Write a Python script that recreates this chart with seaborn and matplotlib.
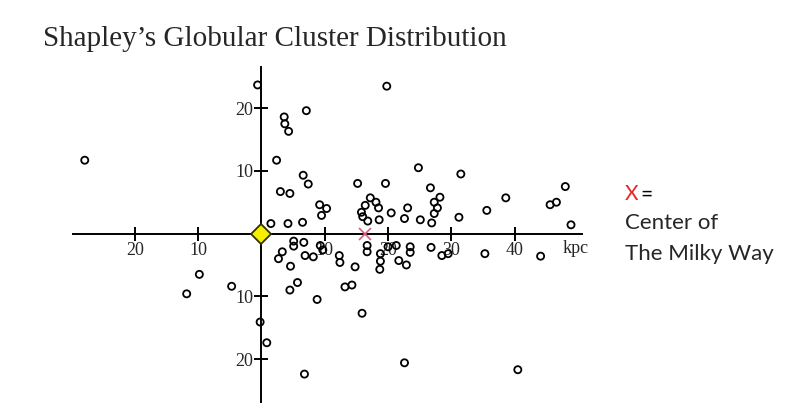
import matplotlib
matplotlib.use('Agg')
import matplotlib.pyplot as plt
import seaborn as sns
import pandas as pd

# globular cluster positions (kpc)
cluster_x = [
    -0.6, 19.8, 7.1, 3.6, 3.7, 4.3, -27.9, 2.4, 6.6, 7.4, 3.0, 4.5, 1.5, 4.2, 6.5,
    9.2, 10.3, 9.5, 15.2, 19.6, 24.8, 31.5, 26.7,
    17.2, 18.1, 16.4, 18.5, 15.8, 16.0, 16.8, 18.6, 20.5, 23.1, 22.6, 25.1,
    28.2, 27.3, 27.8, 27.3, 26.9, 31.2, 35.6, 38.6, 48.0, 45.6, 46.6, 48.9,
    5.1, 5.1, 6.7, 3.3, 2.7, 6.9, 8.2, 4.6, 5.7, 4.5, 8.8, 9.3, 9.7,
    12.3, 12.4, 14.8, 13.2, 14.3, 15.9, 16.7, 16.7, 18.8, 18.8, 18.7,
    20.0, 21.3, 21.7, 22.9, 23.5, 23.5, 26.8, 28.5, 29.5, 35.3, 44.1,
    22.6, 40.5, 6.8, -9.8, -11.8, -4.7, -0.2, 0.85,
]
cluster_y = [
    23.7, 23.5, 19.6, 18.6, 17.5, 16.3, 11.7, 11.7, 9.3, 7.9, 6.7, 6.4, 1.6, 1.6, 1.8,
    4.6, 4.0, 2.9, 8.0, 8.0, 10.5, 9.5, 7.3,
    5.7, 5.0, 4.5, 4.1, 3.4, 2.7, 2.0, 2.2, 3.3, 4.1, 2.4, 2.2,
    5.8, 5.0, 4.1, 3.2, 1.7, 2.6, 3.7, 5.7, 7.5, 4.6, 5.0, 1.4,
    -1.2, -2.0, -1.4, -2.9, -4.0, -3.5, -3.7, -5.2, -7.8, -9.0, -10.5, -1.9, -2.6,
    -3.5, -4.6, -5.3, -8.5, -8.2, -12.7, -1.9, -2.9, -3.2, -4.4, -5.7,
    -2.1, -1.9, -4.3, -5.0, -2.1, -3.0, -2.2, -3.5, -3.2, -3.2, -3.6,
    -20.6, -21.7, -22.4, -6.5, -9.6, -8.4, -14.1, -17.4,
]

sun = (0, 0)
center = (16.3, 0)

x_ticks = [-20, -10, 10, 20, 30, 40]
x_tick_labels = ["20", "10", "10", "20", "30", "40"]
y_ticks = [-20, -10, 10, 20]
y_tick_labels = ["20", "10", "10", "20"]

df = pd.DataFrame({"x": cluster_x, "y": cluster_y})

sns.set_style("white")
plt.rcParams['font.family'] = ['Liberation Serif', 'DejaVu Serif']

fig = plt.figure(figsize=(8.08, 4.12), dpi=100)
ax = fig.add_axes([0.09, 0.025, 0.63, 0.813])

sns.scatterplot(data=df, x="x", y="y", ax=ax, marker="o", s=26,
                facecolor="none", edgecolor="black", linewidth=1.3)
ax.plot(*sun, marker="D", markersize=10, color="#f5f000",
        markeredgecolor="#333300", markeredgewidth=1.3, zorder=5)
ax.plot(*center, marker="x", markersize=9, color="#d9607c",
        markeredgewidth=1.2, zorder=5)

ax.set_xlim(-29.8, 50.6)
ax.set_ylim(-26.8, 26.6)
ax.set_xlabel("")
ax.set_ylabel("")

for side in ["top", "right"]:
    ax.spines[side].set_visible(False)
ax.spines["left"].set_position(("data", 0))
ax.spines["bottom"].set_position(("data", 0))
for side in ["left", "bottom"]:
    ax.spines[side].set_linewidth(1.4)
    ax.spines[side].set_color("black")

ax.set_xticks(x_ticks)
ax.set_xticklabels(x_tick_labels)
ax.set_yticks(y_ticks)
ax.set_yticklabels(y_tick_labels)
ax.tick_params(axis="both", direction="inout", length=10, width=1.4,
               labelsize=13, bottom=True, left=True, color="black")
ax.tick_params(axis="y", pad=1)
ax.tick_params(axis="x", pad=1)

ax.text(47.5, -1.0, "kpc", fontsize=13, ha="left", va="top")

fig.text(0.34, 0.905, "Shapley\u2019s Globular Cluster Distribution",
         fontsize=21, ha="center", va="center")

fig.text(0.773, 0.528, "X", color="#e8242a", fontsize=15,
         family=["Lato", "DejaVu Sans"], ha="left", va="center")
fig.text(0.793, 0.528, "=", color="black", fontsize=15,
         family=["Lato", "DejaVu Sans"], ha="left", va="center")
fig.text(0.773, 0.458, "Center of", fontsize=16,
         family=["Lato", "DejaVu Sans"], ha="left", va="center")
fig.text(0.773, 0.383, "The Milky Way", fontsize=16,
         family=["Lato", "DejaVu Sans"], ha="left", va="center")

fig.savefig("out.png", dpi=100, facecolor="white")
